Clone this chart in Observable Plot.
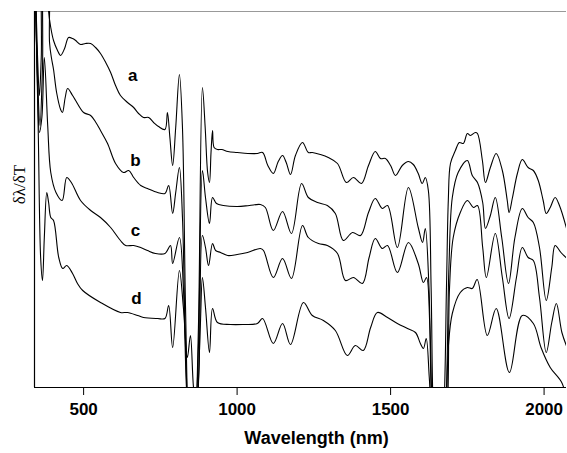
<!DOCTYPE html>
<html>
<head>
<meta charset="utf-8">
<script src="https://cdn.jsdelivr.net/npm/d3@7"></script>
<script src="https://cdn.jsdelivr.net/npm/@observablehq/plot@0.6"></script>
<style>
  html, body { margin: 0; padding: 0; background: #fff; }
  #chart { width: 567px; height: 453px; }
</style>
</head>
<body>
<div id="chart"></div>
<script>
// wavelength (nm), signal (arbitrary units, offset per sample)
const curveA = [[340,440],[350,330],[356,292],[362,330],[372,440],[382,440],[386,376],[393,360],[402,347],[415,337],[425,332],[438,339],[451,350],[464,349],[474,347],[490,343],[506,344],[523,344],[539,340],[555,334],[572,325],[588,315],[604,302],[620,292],[643,285],[663,280],[679,274],[695,270],[712,270],[728,265],[744,261],[765,258],[773,275],[781,250],[790,222],[800,260],[812,313],[822,260],[832,80],[842,-30],[850,-5],[856,-5],[864,-30],[874,60],[887,300],[896,260],[904,215],[910,205],[915,235],[920,257],[925,240],[936,238],[950,238],[970,236],[1000,235],[1035,234],[1066,234],[1083,235],[1100,222],[1118,214],[1134,226],[1148,232],[1160,225],[1174,213],[1190,232],[1213,245],[1232,235],[1245,235],[1271,233],[1297,230],[1327,224],[1356,205],[1379,210],[1405,204],[1428,222],[1450,236],[1467,229],[1483,229],[1500,222],[1516,212],[1538,222],[1558,226],[1574,223],[1590,214],[1603,204],[1613,210],[1623,197],[1632,100],[1640,-30],[1650,-60],[1660,-60],[1672,-30],[1682,100],[1688,187],[1695,224],[1711,237],[1724,245],[1737,244],[1750,254],[1760,252],[1776,255],[1783,254],[1799,227],[1809,205],[1825,220],[1844,234],[1864,217],[1880,187],[1886,175],[1897,190],[1913,214],[1929,228],[1948,220],[1965,217],[1981,207],[1997,187],[2007,174],[2020,180],[2036,190],[2050,182],[2075,157]];
const curveB = [[340,440],[350,310],[358,262],[366,320],[376,440],[384,440],[389,345],[395,330],[402,318],[412,295],[425,278],[431,275],[440,290],[448,299],[464,292],[474,287],[500,275],[523,272],[540,265],[555,257],[578,244],[604,224],[630,215],[647,217],[663,210],[686,202],[708,199],[741,195],[765,194],[777,202],[790,174],[800,195],[812,220],[822,170],[832,40],[842,-30],[850,-5],[856,-5],[864,-30],[874,40],[887,217],[897,190],[910,164],[920,190],[933,184],[955,182],[1001,181],[1040,182],[1076,183],[1092,180],[1118,157],[1148,176],[1177,154],[1210,204],[1232,190],[1262,185],[1294,182],[1320,174],[1346,147],[1376,155],[1402,152],[1428,175],[1450,189],[1473,179],[1490,182],[1522,140],[1558,200],[1590,160],[1604,145],[1613,159],[1625,100],[1636,-30],[1650,-60],[1665,-60],[1678,-30],[1690,120],[1701,190],[1720,215],[1750,227],[1766,212],[1783,205],[1800,185],[1809,159],[1825,172],[1841,190],[1862,150],[1884,104],[1905,150],[1929,179],[1948,170],[1965,165],[1985,140],[2007,87],[2025,120],[2036,142],[2055,135],[2075,129]];
const curveC = [[340,440],[350,300],[356,255],[364,270],[372,330],[383,262],[393,215],[410,195],[430,187],[445,210],[460,205],[490,187],[523,177],[555,170],[588,160],[620,147],[637,142],[663,142],[686,140],[708,137],[734,134],[765,134],[783,142],[790,124],[812,150],[825,100],[835,0],[845,-40],[852,-10],[858,-10],[866,-40],[876,20],[887,152],[897,140],[907,122],[920,144],[930,137],[946,135],[969,132],[1000,133],[1034,135],[1076,139],[1086,137],[1118,110],[1148,129],[1177,109],[1213,162],[1232,150],[1265,144],[1294,142],[1327,134],[1353,107],[1379,110],[1408,104],[1430,130],[1450,149],[1473,139],[1490,142],[1522,115],[1558,145],[1590,124],[1607,105],[1617,110],[1628,60],[1640,-40],[1655,-60],[1668,-60],[1682,-40],[1692,100],[1704,150],[1727,175],[1750,187],[1770,180],[1783,182],[1800,140],[1812,110],[1841,154],[1864,110],[1886,69],[1910,110],[1929,140],[1948,130],[1965,127],[1985,90],[2007,35],[2025,65],[2040,84],[2058,55],[2075,40]];
const curveD = [[340,440],[352,260],[360,130],[366,107],[372,150],[380,195],[386,185],[393,170],[402,167],[419,130],[432,119],[445,122],[464,114],[480,104],[497,97],[555,85],[620,75],[643,75],[676,72],[695,70],[741,69],[765,69],[777,82],[790,40],[812,117],[825,80],[838,30],[848,52],[858,0],[868,-20],[880,60],[887,110],[897,80],[910,35],[920,79],[936,65],[978,63],[1020,63],[1066,64],[1083,69],[1118,44],[1148,64],[1174,43],[1216,85],[1245,72],[1281,67],[1320,57],[1359,32],[1385,42],[1411,37],[1435,60],[1457,75],[1490,70],[1522,64],[1555,59],[1581,55],[1597,44],[1607,39],[1616,49],[1626,10],[1636,-40],[1650,-60],[1665,-60],[1678,-40],[1688,40],[1701,74],[1727,95],[1750,100],[1766,99],[1782,108],[1815,52],[1844,79],[1887,15],[1929,72],[1965,64],[1990,40],[2020,20],[2059,4],[2075,-20]];

const seriesNames = ["a", "b", "c", "d"];
const seriesData = [curveA, curveB, curveC, curveD];
// label anchor positions (nm, a.u.)
const labelW = [660, 669, 669, 672];
const labelV = [312, 227, 157, 89];
const xTicks = [500, 1000, 1500, 2000];
const xDomain = [340, 2073];
const yDomain = [0, 376];

const rows = seriesData.flatMap((pts, i) => pts.map(([w, v]) => ({w, v, s: seriesNames[i]})));
const labels = seriesNames.map((s, i) => ({s, w: labelW[i], v: labelV[i]}));

const chart = Plot.plot({
  width: 567,
  height: 453,
  marginTop: 11,
  marginBottom: 66,
  marginLeft: 34,
  marginRight: 1,
  style: {fontFamily: "'Liberation Sans', Arial, sans-serif", fontSize: "17px", fontWeight: "bold", color: "#000", background: "#fff"},
  x: {domain: xDomain, ticks: xTicks, tickFormat: "d", tickSize: 8, tickPadding: 7, label: null},
  y: {domain: yDomain, axis: null},
  marks: [
    Plot.ruleY([yDomain[1]], {stroke: "#999", strokeWidth: 1.2}),
    Plot.ruleX([xDomain[0]], {stroke: "#000", strokeWidth: 1.2}),
    Plot.ruleY([yDomain[0]], {stroke: "#000", strokeWidth: 1.2}),
    Plot.line(rows, {x: "w", y: "v", z: "s", curve: "catmull-rom", stroke: "#000", strokeWidth: 1.1, clip: true}),
    Plot.text(labels, {x: "w", y: "v", text: "s", fontSize: 17, fontWeight: "bold"}),
    Plot.text(["Wavelength (nm)"], {frameAnchor: "bottom", dx: 16, dy: 56, fontSize: 18, fontWeight: "bold"}),
    Plot.text(["δλ/δT"], {frameAnchor: "left", textAnchor: "middle", dx: -15, dy: -15, rotate: -90, fontSize: 17, fontWeight: "normal", fontFamily: "'Liberation Serif', 'Times New Roman', serif"})
  ]
});
document.getElementById("chart").appendChild(chart);
</script>
</body>
</html>
